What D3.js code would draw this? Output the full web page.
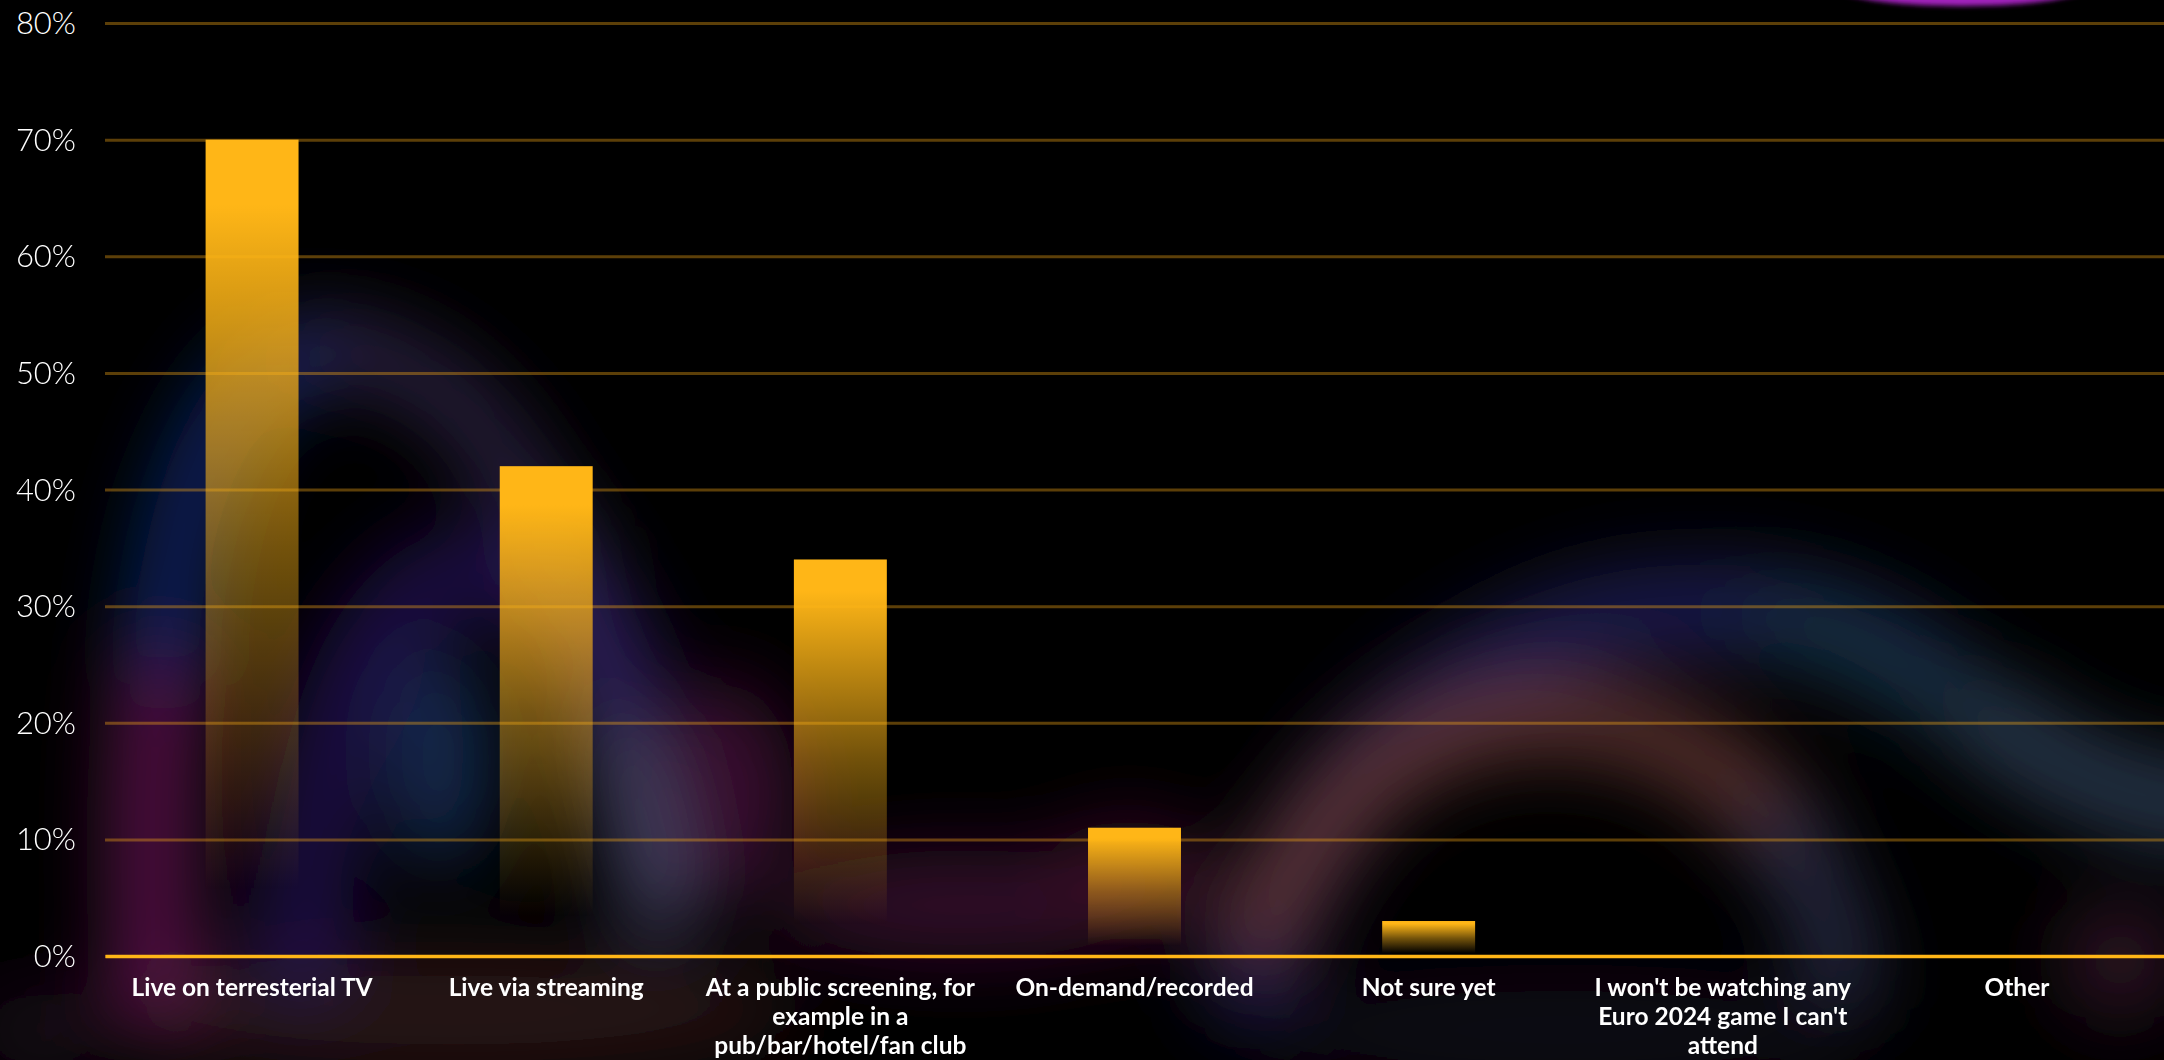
<!DOCTYPE html>
<html>
<head>
<meta charset="utf-8">
<script src="https://cdn.jsdelivr.net/npm/d3@7"></script>
<style>
  html, body { margin: 0; padding: 0; background: #000; overflow: hidden; }
  svg { display: block; }
</style>
</head>
<body>
<svg id="chart" width="2164" height="1060"></svg>
<script>
// ---------- DATA ----------
const labelLines = [
  ["Live on terresterial TV"],
  ["Live via streaming"],
  ["At a public screening, for", "example in a", "pub/bar/hotel/fan club"],
  ["On-demand/recorded"],
  ["Not sure yet"],
  ["I won't be watching any", "Euro 2024 game I can't", "attend"],
  ["Other"]
];
const categories = labelLines.map(l => l.join(" "));
const values = [70, 42, 34, 11, 3, 0, 0];
const yTicks = [0, 10, 20, 30, 40, 50, 60, 70, 80];
const yTickLabels = ["0%", "10%", "20%", "30%", "40%", "50%", "60%", "70%", "80%"];

// ---------- LAYOUT ----------
const W = 2164, H = 1060;
const margin = { left: 105, right: 0, top: 23, bottom: 104 };
const svg = d3.select("#chart");
const defs = svg.append("defs");

const x = d3.scaleBand().domain(categories).range([margin.left, W - margin.right]).padding(0);
const y = d3.scaleLinear().domain([0, 80]).range([H - margin.bottom, margin.top]);
const barW = x.bandwidth() * 0.316;

// background
svg.append("rect").attr("width", W).attr("height", H).attr("fill", "#000");

// blurred stage-light decoration
const blur = defs.append("filter").attr("id", "blur").attr("filterUnits", "userSpaceOnUse")
  .attr("x", -200).attr("y", -200).attr("width", W + 400).attr("height", H + 400);
blur.append("feGaussianBlur").attr("stdDeviation", 38);
const blurS = defs.append("filter").attr("id", "blurS").attr("x", "-20%").attr("y", "-50%").attr("width", "140%").attr("height", "300%");
blurS.append("feGaussianBlur").attr("stdDeviation", 2.5);

const decoStrokes = [
  { d: "M 155 990 C 150 850, 150 750, 165 650", c: "#6a1a58", w: 80, o: 0.8 },
  { d: "M 165 650 C 180 450, 250 360, 320 350", c: "#0c2a70", w: 70, o: 0.9 },
  { d: "M 320 350 C 420 345, 500 420, 560 560", c: "#3a2a55", w: 60, o: 0.8 },
  { d: "M 560 560 C 600 650, 630 760, 660 900", c: "#4d4d72", w: 70, o: 0.85 },
  { d: "M 300 960 C 320 700, 380 580, 480 570 C 560 565, 600 620, 620 690", c: "#2a1560", w: 90, o: 0.7 },
  { d: "M 1250 980 C 1300 800, 1450 650, 1620 615 C 1760 595, 1850 620, 1930 680", c: "#20225a", w: 90, o: 0.85 },
  { d: "M 1780 620 C 1860 640, 1920 680, 1990 720", c: "#124040", w: 60, o: 0.7 },
  { d: "M 1990 720 C 2060 770, 2120 800, 2220 810", c: "#2c3e55", w: 80, o: 0.9 },
  { d: "M 1260 930 C 1320 790, 1420 725, 1530 718 C 1640 712, 1730 760, 1780 830", c: "#6e3c38", w: 70, o: 0.85 },
  { d: "M 1780 830 C 1810 870, 1830 910, 1845 980", c: "#34395a", w: 65, o: 0.8 }
];
const decoBlobs = [
  { cx: 440, cy: 760, rx: 50, ry: 110, c: "#183463", o: 0.8 },
  { cx: 720, cy: 790, rx: 75, ry: 110, c: "#4a0a3e", o: 0.75 },
  { cx: 960, cy: 905, rx: 190, ry: 55, c: "#420a36", o: 0.75 },
  { cx: 450, cy: 1010, rx: 350, ry: 60, c: "#2e1616", o: 0.9 },
  { cx: 1130, cy: 880, rx: 90, ry: 60, c: "#3e0a2c", o: 0.8 },
  { cx: 2120, cy: 960, rx: 60, ry: 60, c: "#3e1a32", o: 0.7 },
  { cx: 1560, cy: 1030, rx: 300, ry: 40, c: "#180e20", o: 0.8 },
  { cx: 40, cy: 1030, rx: 60, ry: 40, c: "#2a0a2a", o: 0.7 }
];
const deco = svg.append("g").attr("filter", "url(#blur)");
deco.selectAll("ellipse").data(decoBlobs).join("ellipse")
  .attr("cx", d => d.cx).attr("cy", d => d.cy).attr("rx", d => d.rx).attr("ry", d => d.ry)
  .attr("fill", d => d.c).attr("opacity", d => d.o);
deco.selectAll("path").data(decoStrokes).join("path")
  .attr("d", d => d.d).attr("fill", "none").attr("stroke", d => d.c)
  .attr("stroke-width", d => d.w).attr("stroke-linecap", "round").attr("opacity", d => d.o);
svg.append("ellipse").attr("cx", 1962).attr("cy", -14).attr("rx", 128).attr("ry", 20)
  .attr("fill", "#a222bc").attr("filter", "url(#blurS)");

// gridlines via axis
const yAxis = d3.axisLeft(y).tickValues(yTicks).tickSize(-(W - margin.left)).tickFormat((d, i) => yTickLabels[i]).tickPadding(29);
const gy = svg.append("g").attr("transform", `translate(${margin.left},0)`).call(yAxis);
gy.select(".domain").remove();
gy.selectAll(".tick line").attr("stroke", "rgba(255,176,23,0.36)").attr("stroke-width", 3);
gy.selectAll(".tick text")
  .attr("fill", "#ffffff")
  .attr("font-family", "Lato, 'Open Sans', sans-serif")
  .attr("font-weight", 300)
  .attr("font-size", 31)
  .attr("dy", "0.34em");

// bar gradient
const grad = defs.append("linearGradient").attr("id", "barGrad").attr("x1", 0).attr("y1", 0).attr("x2", 0).attr("y2", 1);
[[0, 1], [0.08, 1], [0.5, 0.45], [0.92, 0]].forEach(([o, a]) =>
  grad.append("stop").attr("offset", o).attr("stop-color", "#FFB617").attr("stop-opacity", a));

svg.append("g").selectAll("rect").data(values.map((v, i) => ({ c: categories[i], v })).filter(d => d.v > 0)).join("rect")
  .attr("x", d => x(d.c) + (x.bandwidth() - barW) / 2)
  .attr("y", d => y(d.v))
  .attr("width", barW)
  .attr("height", d => y(0) - y(d.v))
  .attr("fill", "url(#barGrad)");

// zero line / x axis
const xAxis = d3.axisBottom(x).tickSize(0).tickFormat("");
const gx = svg.append("g").attr("transform", `translate(0,${y(0)})`).call(xAxis);
gx.select(".domain").attr("stroke", "#FFB617").attr("stroke-width", 3.5);

// category labels
const lbl = svg.append("g").selectAll("text").data(categories).join("text")
  .attr("x", d => x(d) + x.bandwidth() / 2)
  .attr("y", y(0) + 40)
  .attr("text-anchor", "middle")
  .attr("fill", "#ffffff")
  .attr("font-family", "Lato, 'Open Sans', sans-serif")
  .attr("font-weight", 700)
  .attr("font-size", 24.5);
lbl.selectAll("tspan").data((d, i) => labelLines[i]).join("tspan")
  .attr("x", function() { return d3.select(this.parentNode).attr("x"); })
  .attr("dy", (d, i) => i === 0 ? 0 : 29)
  .text(d => d);
</script>
</body>
</html>
